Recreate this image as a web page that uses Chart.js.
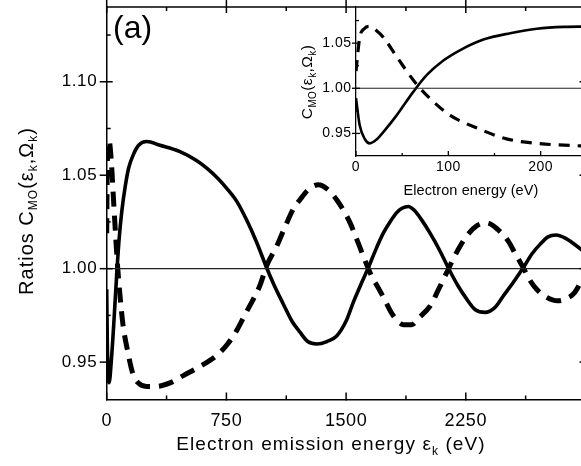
<!DOCTYPE html>
<html><head><meta charset="utf-8">
<script src="https://cdn.jsdelivr.net/npm/chart.js@4"></script>
<style>
html,body{margin:0;padding:0;background:#fff;overflow:hidden;}
#wrap{position:relative;width:581px;height:466px;overflow:hidden;background:#fff;}
#main{position:absolute;left:0;top:0;}
#inset{position:absolute;left:290px;top:0;}
</style></head><body>
<div id="wrap"><canvas id="main" width="600" height="466"></canvas><canvas id="inset" width="310" height="205"></canvas></div>
<script>
const FONT = '"Liberation Sans", Arial, Helvetica, sans-serif';

// ---- main panel data ----
const mainSolidEnergy = [0, 4, 10, 15, 30, 44, 62, 77, 95, 116, 138, 167, 200, 250, 334, 459, 560, 627, 700, 752, 815, 877, 940, 1002, 1050, 1107, 1160, 1211, 1260, 1316, 1380, 1441, 1500, 1545, 1600, 1639, 1690, 1733, 1775, 1817, 1850, 1890, 1930, 1970, 2026, 2085, 2140, 2200, 2256, 2310, 2370, 2430, 2485, 2550, 2610, 2665, 2715, 2765, 2815, 2870, 2924, 2972, 3000];
const mainSolidRatio = [0.989, 0.959, 0.943, 0.939, 0.952, 0.970, 0.996, 1.015, 1.031, 1.044, 1.054, 1.061, 1.066, 1.068, 1.066, 1.0626, 1.058, 1.0538, 1.048, 1.043, 1.036, 1.026, 1.014, 1.0005, 0.991, 0.981, 0.972, 0.966, 0.961, 0.9597, 0.961, 0.964, 0.972, 0.982, 0.993, 1.0005, 1.011, 1.019, 1.025, 1.030, 1.0323, 1.0333, 1.031, 1.0265, 1.019, 1.010, 1.0005, 0.991, 0.9837, 0.978, 0.9766, 0.979, 0.9854, 0.993, 1.0005, 1.008, 1.013, 1.017, 1.018, 1.0165, 1.0135, 1.0103, 1.008];
const mainDashedEnergy = [0, 4, 15, 30, 44, 66, 84, 102, 131, 163, 196, 250, 313, 400, 480, 580, 689, 760, 815, 870, 919, 960, 1002, 1065, 1128, 1170, 1211, 1260, 1326, 1390, 1441, 1485, 1525, 1570, 1608, 1660, 1700, 1744, 1780, 1817, 1860, 1911, 1960, 2026, 2080, 2130, 2170, 2214, 2260, 2320, 2381, 2450, 2516, 2560, 2610, 2650, 2694, 2750, 2825, 2880, 2930, 2972, 3000];
const mainDashedRatio = [1.019, 1.056, 1.0685, 1.056, 1.035, 1.004, 0.985, 0.970, 0.956, 0.944, 0.939, 0.937, 0.937, 0.939, 0.9428, 0.9475, 0.9535, 0.960, 0.967, 0.976, 0.9837, 0.991, 1.0015, 1.012, 1.0245, 1.032, 1.0369, 1.042, 1.0449, 1.042, 1.0369, 1.031, 1.0245, 1.015, 1.0067, 0.996, 0.990, 0.983, 0.977, 0.9725, 0.970, 0.970, 0.974, 0.980, 0.989, 0.9979, 1.005, 1.012, 1.018, 1.023, 1.0245, 1.021, 1.0147, 1.008, 1.0005, 0.994, 0.989, 0.985, 0.9828, 0.984, 0.987, 0.993, 0.997];
const mainRefEnergy = [0, 3000];
const mainRefRatio = [1.0, 1.0];
const mainXTicks = [0, 750, 1500, 2250];
const mainXMinor = [375, 1125, 1875, 2625];
const mainYTicks = [0.95, 1.00, 1.05, 1.10];
const mainYMinor = [0.975, 1.025, 1.075, 1.125];

// ---- inset data ----
const insetSolidEnergy = [0, 4, 10, 15, 22, 30, 44, 62, 77, 95, 116, 138, 167, 196, 225, 250];
const insetSolidRatio = [0.989, 0.959, 0.943, 0.939, 0.943, 0.952, 0.970, 0.996, 1.015, 1.031, 1.044, 1.054, 1.061, 1.066, 1.068, 1.0683];
const insetDashedEnergy = [0, 4, 9, 15, 22, 30, 44, 66, 84, 102, 131, 163, 196, 243, 250];
const insetDashedRatio = [1.019, 1.056, 1.066, 1.0685, 1.064, 1.056, 1.035, 1.004, 0.985, 0.970, 0.956, 0.944, 0.939, 0.9362, 0.936];
const insetRefEnergy = [0, 250];
const insetRefRatio = [1.0, 1.0];
const insetXTicks = [0, 100, 200];
const insetXMinor = [50, 150, 250];
const insetYTicks = [0.95, 1.00, 1.05];
const insetYMinor = [0.975, 1.025, 1.075];

const pts = (xs, ys) => xs.map((x, i) => ({x: x, y: ys[i]}));

function drawRich(ctx, parts, x, y, size, subSize, subDy, spacing) {
  ctx.letterSpacing = spacing + 'px';
  ctx.textAlign = 'left';
  ctx.textBaseline = 'alphabetic';
  let w = 0;
  for (const p of parts) { ctx.font = (p.sub ? subSize : size) + 'px ' + FONT; w += ctx.measureText(p.t).width; }
  let cx = x - w / 2;
  for (const p of parts) {
    ctx.font = (p.sub ? subSize : size) + 'px ' + FONT;
    ctx.fillText(p.t, cx, y + (p.sub ? subDy : 0));
    cx += ctx.measureText(p.t).width;
  }
}
function seg(ctx, x1, y1, x2, y2) { ctx.beginPath(); ctx.moveTo(x1, y1); ctx.lineTo(x2, y2); ctx.stroke(); }
function noPad(s) { s.paddingTop = 0; s.paddingBottom = 0; s.paddingLeft = 0; s.paddingRight = 0; }

const spacingPlugin = (sp) => ({
  id: 'sp',
  beforeDraw(chart) { chart.ctx.letterSpacing = sp + 'px'; }
});

const mainDecor = {
  id: 'mainDecor',
  afterDraw(chart) {
    const {ctx, chartArea: a, scales: {x, y}} = chart;
    ctx.save();
    ctx.strokeStyle = '#000'; ctx.fillStyle = '#000'; ctx.lineWidth = 1.5;
    seg(ctx, a.left - 0.75, a.top, a.right + 0.75, a.top);
    seg(ctx, a.right, a.top, a.right, a.bottom);
    for (const v of mainXTicks) { const p = x.getPixelForValue(v); seg(ctx, p, a.bottom - 7, p, a.bottom + 1); seg(ctx, p, a.top - 7, p, a.top + 6); }
    for (const v of mainXMinor) { const p = x.getPixelForValue(v); seg(ctx, p, a.bottom - 4, p, a.bottom); seg(ctx, p, a.top, p, a.top + 4); }
    for (const v of mainYTicks) { const p = y.getPixelForValue(v); seg(ctx, a.left - 7, p, a.left + 6, p); seg(ctx, a.right - 6, p, a.right + 7, p); }
    for (const v of mainYMinor) { const p = y.getPixelForValue(v); seg(ctx, a.left, p, a.left + 4, p); seg(ctx, a.right - 4, p, a.right, p); }
    // x title
    drawRich(ctx, [{t: 'Electron emission energy \u03b5'}, {t: 'k', sub: true}, {t: ' (eV)'}], 331, 450, 19, 12, 5, 1.1);
    // y title (rotated)
    ctx.save();
    ctx.translate(33, 211);
    ctx.rotate(-Math.PI / 2);
    drawRich(ctx, [{t: 'Ratios C'}, {t: 'MO', sub: true}, {t: '(\u03b5'}, {t: 'k', sub: true}, {t: ',\u03a9'}, {t: 'k', sub: true}, {t: ')'}], 0, 0, 20, 12, 4, 1.0);
    ctx.restore();
    // panel label
    ctx.letterSpacing = '0px';
    ctx.font = '32px ' + FONT; ctx.textAlign = 'left'; ctx.textBaseline = 'alphabetic';
    ctx.fillText('(a)', 113, 38);
    ctx.restore();
  }
};

const insetDecor = {
  id: 'insetDecor',
  afterDraw(chart) {
    const {ctx, chartArea: a, scales: {x, y}} = chart;
    ctx.save();
    ctx.strokeStyle = '#000'; ctx.fillStyle = '#000'; ctx.lineWidth = 1.3;
    for (const v of insetXTicks) { const p = x.getPixelForValue(v); seg(ctx, p, a.bottom - 5, p, a.bottom); }
    for (const v of insetXMinor) { const p = x.getPixelForValue(v); seg(ctx, p, a.bottom - 3, p, a.bottom); }
    for (const v of insetYTicks) { const p = y.getPixelForValue(v); seg(ctx, a.left - 4, p, a.left + 4, p); }
    for (const v of insetYMinor) { const p = y.getPixelForValue(v); seg(ctx, a.left, p, a.left + 3, p); }
    drawRich(ctx, [{t: 'Electron energy (eV)'}], 181, 195, 14.5, 10, 4, 0.1);
    ctx.save();
    ctx.translate(22, 82);
    ctx.rotate(-Math.PI / 2);
    drawRich(ctx, [{t: 'C'}, {t: 'MO', sub: true}, {t: '(\u03b5'}, {t: 'k', sub: true}, {t: ',\u03a9'}, {t: 'k', sub: true}, {t: ')'}], 0, 0, 15.5, 10, 3.5, 0.4);
    ctx.restore();
    ctx.restore();
  }
};

const lineDs = (data, w, dash) => ({
  data: data, borderColor: '#000', borderWidth: w, borderDash: dash || [], pointRadius: 0,
  cubicInterpolationMode: 'monotone', fill: false
});

new Chart(document.getElementById('main'), {
  type: 'line',
  data: {datasets: [
    Object.assign(lineDs(pts(mainRefEnergy, mainRefRatio), 1.4), {borderColor: '#222'}),
    lineDs(pts(mainSolidEnergy, mainSolidRatio), 3.6),
    lineDs(pts(mainDashedEnergy, mainDashedRatio), 5, [15, 9])
  ]},
  options: {
    responsive: false, animation: false, devicePixelRatio: 1,
    layout: {padding: {left: 0, top: 7, right: 14.5, bottom: 0}},
    plugins: {legend: {display: false}, tooltip: {enabled: false}},
    scales: {
      x: {
        type: 'linear', min: 0, max: 3000,
        afterBuildTicks: s => { s.ticks = mainXTicks.map(v => ({value: v})); },
        afterFit: s => { s.height = 66.5; noPad(s); },
        grid: {display: false, drawTicks: false},
        border: {display: true, color: '#000', width: 1.5},
        ticks: {padding: 11, color: '#000', font: {family: FONT, size: 18}, maxRotation: 0, autoSkip: false, callback: v => String(v)}
      },
      y: {
        type: 'linear', min: 0.93, max: 1.14,
        afterBuildTicks: s => { s.ticks = mainYTicks.map(v => ({value: v})); },
        afterFit: s => { s.width = 106.7; noPad(s); },
        grid: {display: false, drawTicks: false},
        border: {display: true, color: '#000', width: 1.5},
        ticks: {padding: 9.5, color: '#000', font: {family: FONT, size: 17}, autoSkip: false, callback: v => Number(v).toFixed(2)}
      }
    }
  },
  plugins: [spacingPlugin(0.6), mainDecor]
});

new Chart(document.getElementById('inset'), {
  type: 'line',
  data: {datasets: [
    Object.assign(lineDs(pts(insetRefEnergy, insetRefRatio), 1.2), {borderColor: '#222'}),
    lineDs(pts(insetSolidEnergy, insetSolidRatio), 2.6),
    lineDs(pts(insetDashedEnergy, insetDashedRatio), 3.2, [11, 8])
  ]},
  options: {
    responsive: false, animation: false, devicePixelRatio: 1,
    layout: {padding: {left: 0, top: 7, right: 13.2, bottom: 0}},
    plugins: {legend: {display: false}, tooltip: {enabled: false}},
    scales: {
      x: {
        type: 'linear', min: 0, max: 250,
        afterBuildTicks: s => { s.ticks = insetXTicks.map(v => ({value: v})); },
        afterFit: s => { s.height = 49; noPad(s); },
        grid: {display: false, drawTicks: false},
        border: {display: true, color: '#000', width: 1.3},
        ticks: {padding: 3, color: '#000', font: {family: FONT, size: 14}, maxRotation: 0, autoSkip: false, callback: v => String(v)}
      },
      y: {
        type: 'linear', min: 0.925, max: 1.09,
        afterBuildTicks: s => { s.ticks = insetYTicks.map(v => ({value: v})); },
        afterFit: s => { s.width = 66; noPad(s); },
        grid: {display: false, drawTicks: false},
        border: {display: true, color: '#000', width: 1.3},
        ticks: {padding: 4.5, color: '#000', font: {family: FONT, size: 14}, autoSkip: false, callback: v => Number(v).toFixed(2)}
      }
    }
  },
  plugins: [spacingPlugin(0.5), insetDecor]
});
</script>
</body></html>
